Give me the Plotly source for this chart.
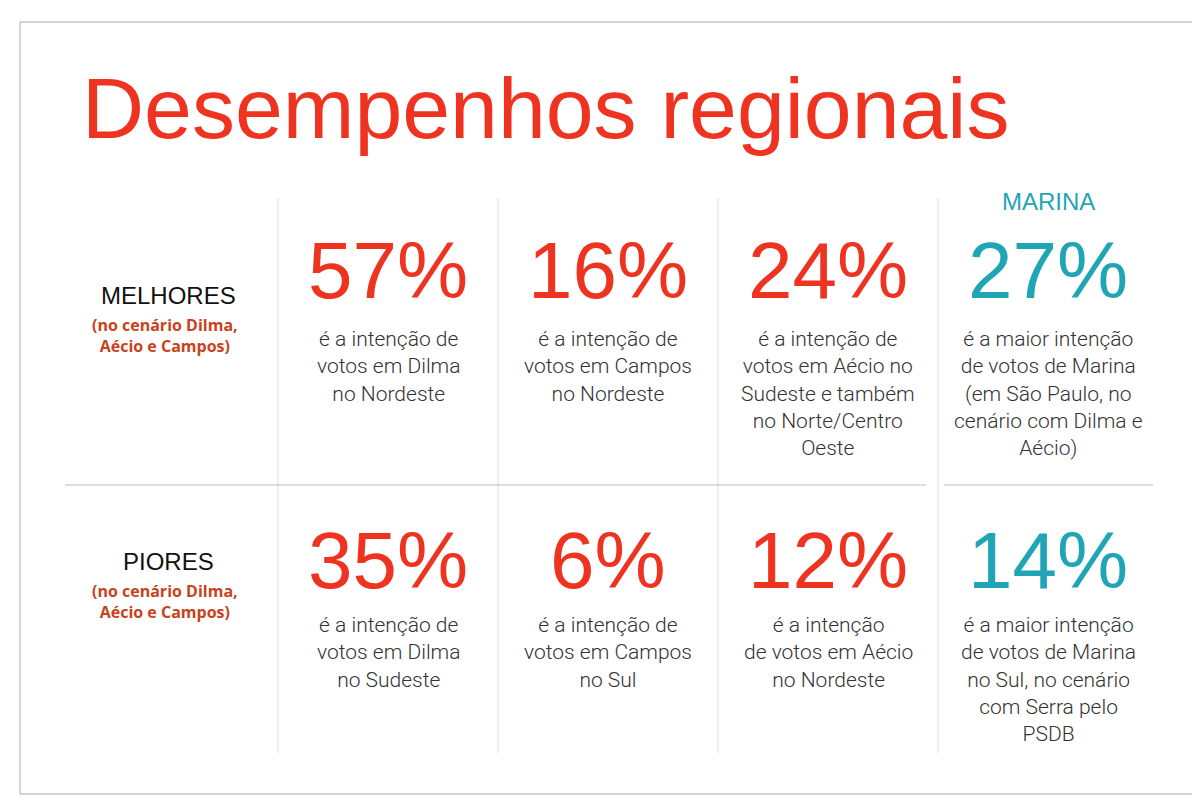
import plotly.graph_objects as go

title = "Desempenhos regionais"
row_labels = ["MELHORES", "PIORES"]
row_notes = ["(no cenário Dilma,<br>Aécio e Campos)", "(no cenário Dilma,<br>Aécio e Campos)"]
best_values = ["57%", "16%", "24%", "27%"]
worst_values = ["35%", "6%", "12%", "14%"]
best_texts = [
    "é a intenção de<br>votos em Dilma<br>no Nordeste",
    "é a intenção de<br>votos em Campos<br>no Nordeste",
    "é a intenção de<br>votos em Aécio no<br>Sudeste e também<br>no Norte/Centro<br>Oeste",
    "é a maior intenção<br>de votos de Marina<br>(em São Paulo, no<br>cenário com Dilma e<br>Aécio)",
]
worst_texts = [
    "é a intenção de<br>votos em Dilma<br>no Sudeste",
    "é a intenção de<br>votos em Campos<br>no Sul",
    "é a intenção<br>de votos em Aécio<br>no Nordeste",
    "é a maior intenção<br>de votos de Marina<br>no Sul, no cenário<br>com Serra pelo<br>PSDB",
]
marina_label = "MARINA"

RED = "#ee3420"
TEAL = "#1fa5b5"
NOTE = "#c8421c"
cols_x = [380, 600, 820, 1040]
num_font = "Liberation Sans Narrow, Arial Narrow, Liberation Sans, sans-serif"

fig = go.Figure()
ann = []
shapes = [dict(type="rect", x0=12, x1=1188, y0=14, y1=786, line=dict(color="#aaa", width=1))]
for x in [270, 490, 710, 930]:
    shapes.append(dict(type="line", x0=x, x1=x, y0=190, y1=745, line=dict(color="#ddd", width=1)))
shapes.append(dict(type="line", x0=57, x1=918, y0=477, y1=477, line=dict(color="#bbb", width=1)))
shapes.append(dict(type="line", x0=936, x1=1145, y0=477, y1=477, line=dict(color="#bbb", width=1)))

ann.append(dict(x=72, y=100, text=title, xanchor="left", yanchor="middle", showarrow=False,
                font=dict(family=num_font, size=86, color=RED)))
for ry, lab, note in zip([287, 553], row_labels, row_notes):
    ann.append(dict(x=160, y=ry, text=lab, showarrow=False,
                    font=dict(family=num_font, size=24, color="#111")))
    ann.append(dict(x=157, y=ry + 40, text="<b>" + note + "</b>", showarrow=False,
                    font=dict(family="Open Sans", size=16, color=NOTE)))
ann.append(dict(x=1040, y=193, text=marina_label, showarrow=False,
                font=dict(family=num_font, size=24, color=TEAL)))

for row_y, text_y, values, texts in [(262, 331, best_values, best_texts), (552, 617, worst_values, worst_texts)]:
    for i, (x, v, t) in enumerate(zip(cols_x, values, texts)):
        c = TEAL if i == 3 else RED
        ann.append(dict(x=x, y=row_y, text=v, showarrow=False, yanchor="middle",
                        font=dict(family=num_font, size=80, color=c)))
        ann.append(dict(x=x, y=text_y - 14, text=t, showarrow=False, yanchor="top",
                        font=dict(family="Roboto", size=21, color="#333", weight=300)))

fig.update_layout(
    width=1200, height=800, margin=dict(l=0, r=0, t=0, b=0),
    paper_bgcolor="white", plot_bgcolor="white",
    xaxis=dict(range=[0, 1200], visible=False, fixedrange=True),
    yaxis=dict(range=[800, 0], visible=False, fixedrange=True),
    annotations=ann, shapes=shapes, showlegend=False,
)
fig.write_html("out.html")
